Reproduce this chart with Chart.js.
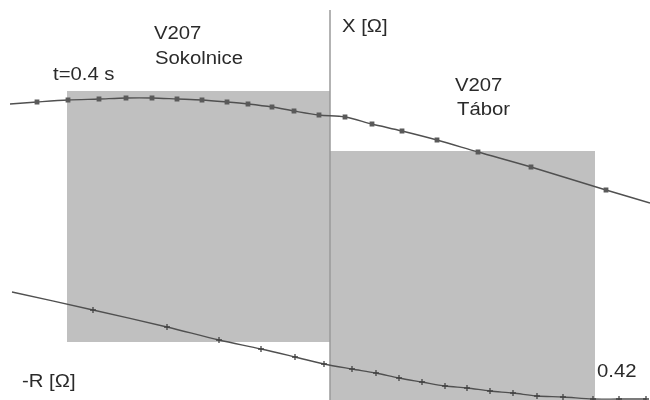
<!DOCTYPE html>
<html>
<head>
<meta charset="utf-8">
<script src="https://cdn.jsdelivr.net/npm/chart.js@4/dist/chart.umd.min.js"></script>
<style>
html,body{margin:0;padding:0;background:#fff;}
canvas{display:block;}
</style>
</head>
<body>
<canvas id="c" width="650" height="400"></canvas>
<script>
// Trajectory of impedance (R, X in ohms)
const upperR = [-32.0,-29.3,-26.2,-23.1,-20.4,-17.8,-15.3,-12.8,-10.3,-8.2,-5.8,-3.6,-1.1,1.5,4.2,7.2,10.7,14.8,20.1,27.6,32.0];
const upperX = [29.6,29.8,30.0,30.1,30.2,30.2,30.1,30.0,29.8,29.6,29.3,28.9,28.5,28.3,27.6,26.9,26.0,24.8,23.3,21.0,19.7];
const upperMarks = [0,1,1,1,1,1,1,1,1,1,1,1,1,1,1,1,1,1,1,1,0];

const lowerR = [-31.8,-23.7,-16.3,-11.1,-6.9,-3.5,-0.6,2.2,4.6,6.9,9.2,11.5,13.7,16.0,18.3,20.7,23.3,26.3,28.9,31.6];
const lowerX = [10.8,9.0,7.3,6.0,5.1,4.3,3.6,3.1,2.7,2.2,1.8,1.4,1.2,0.9,0.7,0.4,0.3,0.1,0.1,0.1];
const lowerMarks = [0,1,1,1,1,1,1,1,1,1,1,1,1,1,1,1,1,1,1,1];

// Protection zones: [Rmin, Rmax, Xmin, Xmax]
const zoneSokolnice = [-26.3, 0, 5.8, 30.9];
const zoneTabor = [0, 26.5, 0, 24.9];

const axisX = [0, 39];

const labels = [
  {text:'V207', r:-17.6, x:36.6},
  {text:'Sokolnice', r:-17.5, x:34.1},
  {text:'t=0.4 s', r:-27.7, x:32.5},
  {text:'X [Ω]', r:1.2, x:37.3},
  {text:'V207', r:12.5, x:31.4},
  {text:'Tábor', r:12.7, x:29.0},
  {text:'-R [Ω]', r:-30.8, x:1.8},
  {text:'0.42', r:26.7, x:2.8}
];

const pts = (rs, xs) => rs.map((r,i)=>({x:r, y:xs[i]}));
const zoneGray = '#c0c0c0';
const curveColor = '#505050';

const labelPlugin = {
  id:'labels',
  afterDraw(chart){
    const ctx = chart.ctx;
    const sx = chart.scales.x, sy = chart.scales.y;
    ctx.save();
    ctx.fillStyle = '#2a2a2a';
    ctx.font = '17.5px "Liberation Sans", Arial, sans-serif';
    ctx.textBaseline = 'middle';
    ctx.textAlign = 'left';
    labels.forEach(l=>{
      const px = sx.getPixelForValue(l.r), py = sy.getPixelForValue(l.x);
      ctx.save();
      ctx.translate(px, py);
      ctx.scale(1.16, 1);
      ctx.fillText(l.text, 0, 0);
      ctx.restore();
    });
    ctx.restore();
  }
};

new Chart(document.getElementById('c'), {
  type:'scatter',
  data:{
    datasets:[
      {data:pts([zoneSokolnice[0],zoneSokolnice[1]],[zoneSokolnice[3],zoneSokolnice[3]]), showLine:true, borderWidth:0, pointRadius:0, fill:false, order:10, tension:0},
      {data:pts([zoneSokolnice[0],zoneSokolnice[1]],[zoneSokolnice[2],zoneSokolnice[2]]), showLine:true, borderWidth:0, pointRadius:0, fill:'-1', backgroundColor:zoneGray, order:10, tension:0},
      {data:pts([zoneTabor[0],zoneTabor[1]],[zoneTabor[3],zoneTabor[3]]), showLine:true, borderWidth:0, pointRadius:0, fill:'start', backgroundColor:zoneGray, order:10, tension:0},
      {data:pts([0,0],axisX), showLine:true, borderColor:'#9a9a9a', borderWidth:1.5, pointRadius:0, order:5},
      {data:pts(upperR, upperX), showLine:true, borderColor:curveColor, borderWidth:1.4, tension:0.3,
        pointRadius:upperMarks.map(m=>m?2.4:0), pointStyle:'rect', pointBackgroundColor:'#5a5a5a', pointBorderColor:'#5a5a5a', order:1},
      {data:pts(lowerR, lowerX), showLine:true, borderColor:curveColor, borderWidth:1.3, tension:0.3,
        pointRadius:lowerMarks.map(m=>m?3:0), pointStyle:'cross', pointBorderColor:'#444', pointBorderWidth:1.3, order:1}
    ]
  },
  options:{
    responsive:false,
    animation:false,
    layout:{padding:0, autoPadding:false},
    scales:{
      x:{type:'linear', min:-33, max:32, display:false},
      y:{type:'linear', min:0, max:40, display:false}
    },
    plugins:{
      legend:{display:false},
      tooltip:{enabled:false},
      filler:{drawTime:'beforeDatasetsDraw'}
    }
  },
  plugins:[labelPlugin]
});
</script>
</body>
</html>
